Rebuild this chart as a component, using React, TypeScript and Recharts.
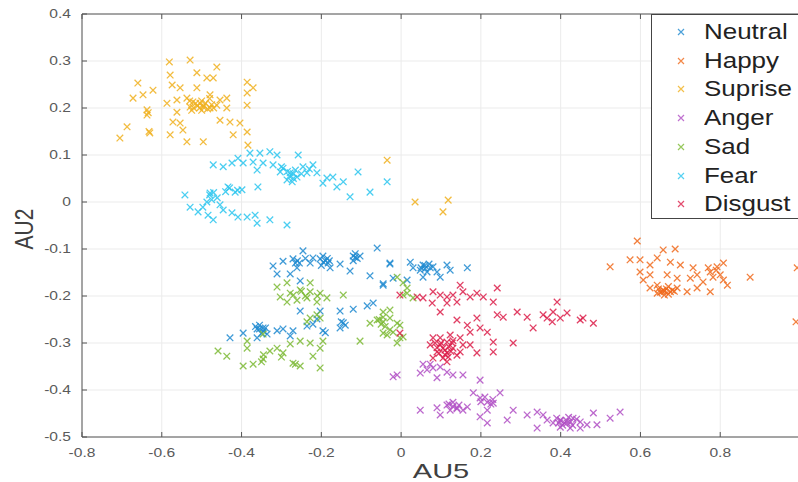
import { ScatterChart, Scatter, XAxis, YAxis, CartesianGrid, Legend, ReferenceLine } from 'recharts';

const neutral = [
  [-0.321, -0.136], [-0.296, -0.126], [-0.271, -0.121], [-0.246, -0.104], [-0.228, -0.13], [-0.203, -0.121],
  [-0.183, -0.13], [-0.178, -0.14], [-0.153, -0.132], [-0.12, -0.115], [-0.103, -0.115], [-0.128, -0.147],
  [-0.078, -0.157], [-0.06, -0.098], [-0.028, -0.132], [-0.045, -0.174], [-0.261, -0.14], [-0.221, -0.119],
  [-0.196, -0.115], [-0.278, -0.153], [-0.253, -0.168], [-0.311, -0.153], [-0.19, -0.125], [-0.185, -0.12],
  [-0.2, -0.135], [-0.11, -0.12], [-0.115, -0.11], [-0.26, -0.125], [-0.255, -0.13], [-0.24, -0.12],
  [-0.195, -0.128], [-0.18, -0.125], [-0.115, -0.118], [-0.12, -0.125], [-0.265, -0.13],
  [-0.07, -0.215], [-0.085, -0.221], [-0.12, -0.228], [-0.153, -0.232], [-0.203, -0.232], [-0.253, -0.232],
  [-0.211, -0.249], [-0.236, -0.264], [-0.145, -0.257], [-0.153, -0.268], [-0.196, -0.274], [-0.271, -0.274],
  [-0.296, -0.27], [-0.346, -0.268], [-0.361, -0.27], [-0.336, -0.281], [-0.361, -0.289], [-0.396, -0.279],
  [-0.429, -0.289], [-0.311, -0.274], [-0.278, -0.285], [-0.221, -0.26], [-0.355, -0.262], [-0.345, -0.275],
  [-0.35, -0.28], [-0.365, -0.265], [-0.14, -0.262], [-0.15, -0.255], [-0.19, -0.278], [-0.355, -0.27], [-0.34, -0.268],
  [-0.028, -0.13], [0.023, -0.128], [0.03, -0.14], [0.055, -0.134], [0.073, -0.14], [0.09, -0.149],
  [0.115, -0.134], [0.123, -0.145], [0.166, -0.14], [0.015, -0.166], [0.055, -0.16], [0.098, -0.16],
  [-0.02, -0.162], [-0.045, -0.177], [0.048, -0.145], [0.065, -0.149], [0.08, -0.138], [0.06, -0.142],
  [0.07, -0.132], [0.05, -0.14], [0.06, -0.135],
];

const happy = [
  [0.524, -0.138], [0.592, -0.083], [0.574, -0.123], [0.599, -0.123], [0.624, -0.134], [0.657, -0.102],
  [0.687, -0.1], [0.642, -0.119], [0.675, -0.128], [0.7, -0.134], [0.624, -0.155], [0.607, -0.166],
  [0.642, -0.177], [0.657, -0.187], [0.675, -0.191], [0.692, -0.183], [0.717, -0.191], [0.667, -0.155],
  [0.692, -0.162], [0.725, -0.162], [0.742, -0.155], [0.757, -0.17], [0.775, -0.149], [0.792, -0.138],
  [0.808, -0.13], [0.782, -0.16], [0.808, -0.166], [0.818, -0.177], [0.775, -0.191], [0.742, -0.183],
  [0.875, -0.16], [0.642, -0.194], [0.624, -0.183], [0.599, -0.149], [0.732, -0.14], [0.66, -0.19],
  [0.665, -0.185], [0.65, -0.192], [0.68, -0.188], [0.67, -0.196], [0.655, -0.19], [0.67, -0.18],
  [0.685, -0.19], [0.645, -0.185], [0.66, -0.198], [0.8, -0.155], [0.79, -0.145], [0.77, -0.14],
  [0.993, -0.14], [0.99, -0.255],
];

const suprise = [
  [-0.581, 0.298], [-0.529, 0.302], [-0.512, 0.275], [-0.487, 0.264], [-0.462, 0.287], [-0.471, 0.264],
  [-0.579, 0.27], [-0.574, 0.249], [-0.554, 0.243], [-0.512, 0.243], [-0.66, 0.253], [-0.672, 0.221],
  [-0.647, 0.228], [-0.622, 0.238], [-0.637, 0.196], [-0.637, 0.185], [-0.687, 0.16], [-0.705, 0.136],
  [-0.63, 0.147], [-0.579, 0.143], [-0.547, 0.153], [-0.537, 0.128], [-0.496, 0.128], [-0.572, 0.17],
  [-0.554, 0.168], [-0.454, 0.174], [-0.429, 0.17], [-0.404, 0.168], [-0.386, 0.255], [-0.371, 0.243],
  [-0.386, 0.232], [-0.437, 0.221], [-0.437, 0.2], [-0.386, 0.206], [-0.386, 0.149], [-0.421, 0.143],
  [-0.384, 0.121], [-0.479, 0.228], [-0.504, 0.21], [-0.522, 0.213], [-0.537, 0.221], [-0.562, 0.217],
  [-0.587, 0.21], [-0.496, 0.202], [-0.529, 0.202], [-0.479, 0.2], [-0.462, 0.206], [-0.454, 0.217],
  [-0.562, 0.191], [-0.51, 0.205], [-0.49, 0.21], [-0.47, 0.2], [-0.53, 0.215], [-0.5, 0.195],
  [-0.48, 0.22], [-0.52, 0.2], [-0.632, 0.15], [-0.634, 0.19], [-0.505, 0.2], [-0.495, 0.205],
  [-0.515, 0.21], [-0.485, 0.198], [-0.5, 0.215], [-0.475, 0.207], [-0.525, 0.195],
  [-0.035, 0.089], [0.035, 0.0], [0.118, 0.004], [0.105, -0.021],
];

const anger = [
  [-0.02, -0.372], [-0.01, -0.368], [0.048, -0.364], [0.065, -0.357], [0.08, -0.353], [0.098, -0.351],
  [0.055, -0.345], [0.115, -0.362], [0.09, -0.374], [0.13, -0.368], [0.155, -0.368], [0.198, -0.379],
  [0.073, -0.345], [0.048, -0.443], [0.09, -0.438], [0.115, -0.432], [0.123, -0.443], [0.14, -0.438],
  [0.13, -0.426], [0.155, -0.443], [0.166, -0.436], [0.181, -0.406], [0.198, -0.417], [0.216, -0.426],
  [0.231, -0.428], [0.248, -0.406], [0.216, -0.443], [0.198, -0.457], [0.216, -0.47], [0.266, -0.464],
  [0.281, -0.443], [0.316, -0.453], [0.341, -0.447], [0.356, -0.453], [0.366, -0.464], [0.381, -0.47],
  [0.399, -0.464], [0.416, -0.47], [0.431, -0.46], [0.449, -0.468], [0.466, -0.474], [0.399, -0.479],
  [0.424, -0.481], [0.482, -0.449], [0.524, -0.46], [0.549, -0.447], [0.341, -0.481], [0.449, -0.481],
  [0.491, -0.474], [0.098, -0.453], [0.4, -0.465], [0.41, -0.47], [0.39, -0.46], [0.42, -0.458],
  [0.43, -0.475], [0.13, -0.435], [0.12, -0.43], [0.2, -0.425], [0.21, -0.415], [0.415, -0.465],
  [0.405, -0.475], [0.395, -0.47], [0.425, -0.468], [0.44, -0.462], [0.14, -0.44], [0.145, -0.432],
  [0.23, -0.42], [0.225, -0.43],
];

const sad = [
  [-0.303, -0.202], [-0.278, -0.194], [-0.253, -0.187], [-0.228, -0.191], [-0.203, -0.194], [-0.186, -0.204],
  [-0.286, -0.213], [-0.261, -0.209], [-0.236, -0.204], [-0.211, -0.213], [-0.311, -0.181], [-0.228, -0.172],
  [-0.286, -0.172], [-0.145, -0.198], [-0.228, -0.247], [-0.236, -0.255], [-0.211, -0.24], [-0.203, -0.247],
  [-0.25, -0.19], [-0.24, -0.2], [-0.21, -0.2], [-0.27, -0.198],
  [-0.459, -0.317], [-0.437, -0.328], [-0.386, -0.311], [-0.396, -0.349], [-0.371, -0.345], [-0.346, -0.334],
  [-0.329, -0.317], [-0.311, -0.311], [-0.296, -0.321], [-0.271, -0.343], [-0.253, -0.349], [-0.278, -0.302],
  [-0.253, -0.296], [-0.228, -0.3], [-0.203, -0.311], [-0.221, -0.328], [-0.203, -0.353], [-0.196, -0.296],
  [-0.346, -0.281], [-0.386, -0.296], [-0.103, -0.296], [-0.35, -0.34], [-0.265, -0.345], [-0.3, -0.33],
  [-0.345, -0.325],
  [-0.078, -0.258], [-0.06, -0.251], [-0.045, -0.245], [-0.028, -0.23], [-0.01, -0.258], [-0.028, -0.272],
  [0.005, -0.287], [-0.01, -0.3], [-0.045, -0.279], [0.015, -0.194], [0.005, -0.172], [-0.01, -0.16],
  [-0.045, -0.234], [-0.028, -0.247], [-0.003, -0.262], [0.005, -0.198], [0.03, -0.204], [0.015, -0.183],
  [-0.02, -0.277], [-0.035, -0.283], [-0.003, -0.289], [-0.05, -0.26], [-0.04, -0.265], [-0.045, -0.255],
  [-0.055, -0.25],
];

const fear = [
  [-0.471, 0.079], [-0.446, 0.075], [-0.424, 0.083], [-0.409, 0.093], [-0.379, 0.104], [-0.354, 0.104],
  [-0.329, 0.107], [-0.311, 0.1], [-0.258, 0.1], [-0.371, 0.085], [-0.346, 0.083], [-0.321, 0.079],
  [-0.296, 0.072], [-0.278, 0.062], [-0.261, 0.053], [-0.286, 0.047], [-0.246, 0.075], [-0.221, 0.079],
  [-0.236, 0.062], [-0.211, 0.062], [-0.303, 0.064], [-0.361, 0.068], [-0.396, 0.083], [-0.273, 0.043],
  [-0.186, 0.051], [-0.171, 0.053], [-0.196, 0.04], [-0.145, 0.043], [-0.161, 0.032], [-0.108, 0.064],
  [-0.128, 0.011], [-0.078, 0.021], [-0.035, 0.043], [-0.359, 0.032], [-0.28, 0.055], [-0.27, 0.05],
  [-0.27, 0.06], [-0.265, 0.068], [-0.285, 0.065], [-0.25, 0.06], [-0.23, 0.07], [-0.3, 0.075],
  [-0.542, 0.015], [-0.479, 0.019], [-0.461, 0.009], [-0.434, 0.032], [-0.416, 0.021], [-0.399, 0.026],
  [-0.487, 0.0], [-0.529, -0.011], [-0.509, -0.021], [-0.484, -0.028], [-0.471, -0.038], [-0.446, -0.017],
  [-0.424, -0.023], [-0.409, -0.032], [-0.386, -0.032], [-0.366, -0.028], [-0.361, -0.045], [-0.329, -0.038],
  [-0.286, -0.049], [-0.454, -0.006], [-0.497, -0.011], [-0.47, 0.02], [-0.41, 0.025], [-0.48, 0.015],
  [-0.475, 0.005], [-0.44, 0.022], [-0.43, 0.03],
];

const disgust = [
  [0.08, -0.191], [0.098, -0.198], [0.115, -0.202], [0.13, -0.198], [0.148, -0.177], [0.155, -0.191],
  [0.173, -0.202], [0.19, -0.194], [0.206, -0.202], [0.231, -0.213], [0.241, -0.183], [0.055, -0.204],
  [0.04, -0.202], [0.115, -0.215], [0.14, -0.213], [0.098, -0.234], [0.078, -0.215], [-0.003, -0.198],
  [0.14, -0.251], [0.166, -0.262], [0.19, -0.247], [0.198, -0.268], [0.216, -0.277], [0.173, -0.277],
  [0.231, -0.298], [0.281, -0.3], [0.19, -0.321], [0.231, -0.319], [0.241, -0.24], [0.256, -0.245],
  [0.291, -0.234], [0.316, -0.245], [0.331, -0.268], [0.366, -0.247], [0.381, -0.234], [0.391, -0.213],
  [0.399, -0.247], [0.416, -0.236], [0.449, -0.251], [0.482, -0.258], [0.456, -0.247], [0.379, -0.255],
  [0.356, -0.24], [0.08, -0.289], [0.098, -0.304], [0.115, -0.298], [0.13, -0.311], [0.09, -0.319],
  [0.115, -0.321], [0.14, -0.326], [0.155, -0.304], [0.105, -0.332], [0.08, -0.332], [0.123, -0.283],
  [0.148, -0.289], [0.173, -0.304], [0.073, -0.304], [0.105, -0.311], [0.128, -0.3], [0.098, -0.289],
  [0.148, -0.319], [0.115, -0.34], [-0.003, -0.279], [0.11, -0.315], [0.12, -0.308], [0.1, -0.3],
  [0.11, -0.325], [0.09, -0.31], [0.125, -0.318], [0.095, -0.322], [0.13, -0.295], [0.085, -0.3], [0.118, -0.33],
];

const series = [
  { name: 'Neutral', data: neutral, color: '#1f8ad0' },
  { name: 'Happy', data: happy, color: '#f06a1c' },
  { name: 'Suprise', data: suprise, color: '#f0b01e' },
  { name: 'Anger', data: anger, color: '#b04fc4' },
  { name: 'Sad', data: sad, color: '#7dba35' },
  { name: 'Fear', data: fear, color: '#2cc6ef' },
  { name: 'Disgust', data: disgust, color: '#dc1f4a' },
];

const xTicks = [-0.8, -0.6, -0.4, -0.2, 0, 0.2, 0.4, 0.6, 0.8];
const yTicks = [-0.5, -0.4, -0.3, -0.2, -0.1, 0, 0.1, 0.2, 0.3, 0.4];

const FONT = '"Liberation Sans", Arial, sans-serif';
const PLOT_LEFT = 82;
const PLOT_TOP = 14;
const PLOT_BOTTOM = 437;

const toPoints = (arr: number[][]) => arr.map(([x, y]) => ({ x, y }));

function Cross(props: any) {
  const { cx, cy, fill } = props;
  const r = 3.3;
  return (
    <path
      d={`M${cx - r},${cy - r}L${cx + r},${cy + r}M${cx - r},${cy + r}L${cx + r},${cy - r}`}
      stroke={fill}
      strokeWidth={1.3}
      strokeOpacity={0.85}
      fill="none"
    />
  );
}

function XTick(props: any) {
  const { x, payload } = props;
  return (
    <g>
      <line x1={x} y1={PLOT_BOTTOM} x2={x} y2={PLOT_BOTTOM - 5} stroke="#555" />
      <line x1={x} y1={PLOT_TOP} x2={x} y2={PLOT_TOP + 5} stroke="#555" />
      <g transform={`translate(${x},${453}) scale(1.3,1)`}>
        <text textAnchor="middle" dominantBaseline="central" fontSize={12} fill="#5a5a5a" fontFamily={FONT}>
          {payload.value === 0 ? '0' : String(payload.value)}
        </text>
      </g>
    </g>
  );
}

function YTick(props: any) {
  const { y, payload } = props;
  return (
    <g>
      <line x1={PLOT_LEFT} y1={y} x2={PLOT_LEFT + 5} y2={y} stroke="#555" />
      <g transform={`translate(${71},${y}) scale(1.3,1)`}>
        <text textAnchor="end" dominantBaseline="central" fontSize={12} fill="#5a5a5a" fontFamily={FONT}>
          {payload.value === 0 ? '0' : String(payload.value)}
        </text>
      </g>
    </g>
  );
}

function LegendBox() {
  return (
    <div
      style={{
        width: 150,
        height: 205,
        border: '1px solid #444',
        background: '#fff',
        boxSizing: 'border-box',
        position: 'relative',
        fontFamily: FONT,
      }}
    >
      {series.map((s, i) => (
        <div key={s.name} style={{ position: 'absolute', left: 0, top: 17 + i * 28.7, height: 0 }}>
          <svg width={10} height={10} style={{ position: 'absolute', left: 24, top: -5 }}>
            <path d="M2,2L8,8M2,8L8,2" stroke={s.color} strokeWidth={1.2} strokeOpacity={0.8} />
          </svg>
          <span
            style={{
              position: 'absolute',
              left: 52,
              top: -13,
              fontSize: 22,
              lineHeight: '26px',
              color: '#222',
              whiteSpace: 'nowrap',
              transform: 'scaleX(1.18)',
              transformOrigin: 'left center',
            }}
          >
            {s.name}
          </span>
        </div>
      ))}
    </div>
  );
}

export default function App() {
  return (
    <div style={{ position: 'absolute', left: 0, top: 0, width: 798, height: 482, overflow: 'hidden', background: '#fff' }}>
      <ScatterChart width={802} height={482} margin={{ top: PLOT_TOP, right: 2, bottom: 0, left: 0 }}>
        <CartesianGrid stroke="#ebebeb" />
        <XAxis
          type="number"
          dataKey="x"
          domain={[-0.8, 1.0]}
          ticks={xTicks}
          interval={0}
          height={45}
          axisLine={{ stroke: '#555' }}
          tickLine={false}
          tick={<XTick />}
          allowDataOverflow
          label={{
            content: () => (
              <g transform="translate(441,471) scale(1.38,1)">
                <text textAnchor="middle" dominantBaseline="central" fontSize={21} fill="#404040" fontFamily={FONT}>
                  AU5
                </text>
              </g>
            ),
          }}
        />
        <YAxis
          type="number"
          dataKey="y"
          domain={[-0.5, 0.4]}
          ticks={yTicks}
          interval={0}
          width={PLOT_LEFT}
          axisLine={{ stroke: '#555' }}
          tickLine={false}
          tick={<YTick />}
          allowDataOverflow
          label={{
            content: () => (
              <g transform="translate(24,229) rotate(-90) scale(1,1.2)">
                <text textAnchor="middle" dominantBaseline="central" fontSize={21} fill="#404040" fontFamily={FONT}>
                  AU2
                </text>
              </g>
            ),
          }}
        />
        <ReferenceLine y={0.4} stroke="#555" />
        {series.map((s) => (
          <Scatter
            key={s.name}
            name={s.name}
            data={toPoints(s.data)}
            fill={s.color}
            shape={Cross}
            isAnimationActive={false}
          />
        ))}
        <Legend
          layout="vertical"
          align="center"
          verticalAlign="middle"
          wrapperStyle={{ left: 651, top: 14, width: 150, height: 205 }}
          content={() => <LegendBox />}
        />
      </ScatterChart>
    </div>
  );
}
